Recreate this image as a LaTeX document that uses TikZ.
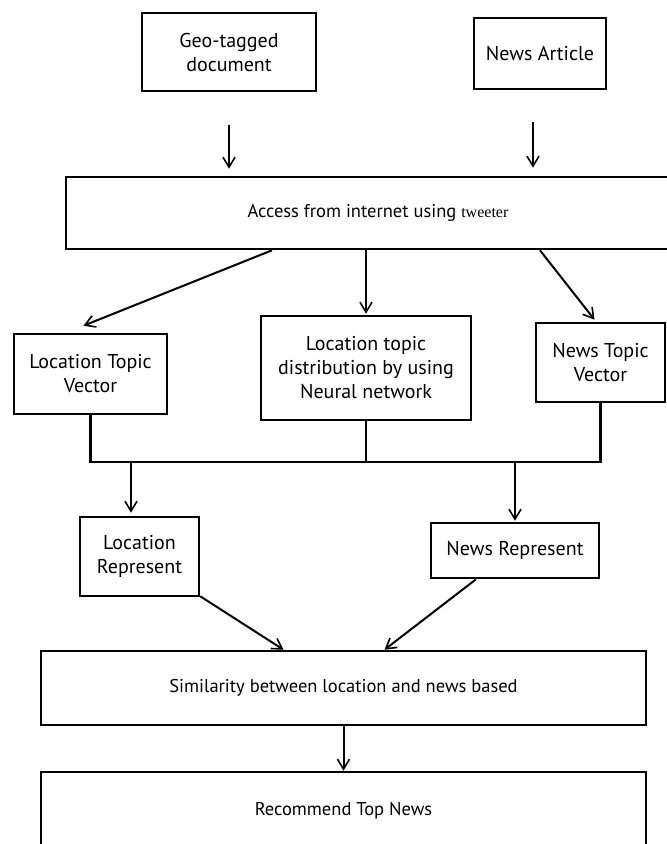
\documentclass[tikz,border=0pt]{standalone}
\usepackage{fontspec}
\setmainfont{PT Sans}
\newfontfamily\serifalt{Liberation Serif}
\usetikzlibrary{arrows.meta,calc}
\begin{document}
\begin{tikzpicture}[x=1pt,y=-1pt,
  box/.style={draw, line width=2.6pt, align=center, inner sep=0pt, font=\fontsize{20}{24}\selectfont},
  wide/.style={box, font=\fontsize{18.5}{22}\selectfont},
  arr/.style={line width=2pt, -{Straight Barb[length=10pt,width=12pt,line width=1.6pt]}},
  link/.style={line width=2.4pt}]
\fill[white] (0,0) rectangle (667,844);
\useasboundingbox (0,0) rectangle (667,844);
% nodes
\node[box, minimum width=174pt, minimum height=78pt] (geo) at (229,52) {Geo-tagged\\document};
\node[box, minimum width=132pt, minimum height=71pt] (art) at (540,53.5) {News Article};
\node[wide, minimum width=614pt, minimum height=72pt] (acc) at (373,213) {};
\node[font=\fontsize{18.5}{22}\selectfont, inner sep=0pt] (acctext) at (378,213) {Access from internet using {\serifalt\fontsize{16}{22}\selectfont tweeter}};
\node[box, minimum width=153pt, minimum height=80pt] (ltv) at (90.5,374) {Location Topic\\Vector};
\node[box, minimum width=210pt, minimum height=104pt] (ltd) at (366,368) {Location topic\\distribution by using\\Neural network};
\node[box, minimum width=129pt, minimum height=79pt] (ntv) at (600.5,362.5) {News Topic\\Vector};
\node[box, minimum width=119pt, minimum height=79pt] (lr) at (139.5,556.5) {Location\\Represent};
\node[box, minimum width=168pt, minimum height=55pt] (nr) at (515,550.5) {News Represent};
\node[wide, minimum width=605pt, minimum height=74pt] (sim) at (343.5,688) {Similarity between location and news based};
\node[wide, minimum width=605pt, minimum height=78pt] (rec) at (343.5,811) {Recommend Top News};
\coordinate (j) at (366,462);
% connectors
\draw[arr] ([yshift=-33pt]geo.south) -- ([yshift=7pt]geo.south |- acc.north);
\draw[arr] ([xshift=-7pt,yshift=-32pt]art.south) -- ([xshift=-7pt,yshift=8pt]art.south |- acc.north);
\draw[arr] ([xshift=-101pt]acc.south) -- ([xshift=-7pt,yshift=7pt]ltv.north);
\draw[arr] (acc.south -| ltd.north) -- ([yshift=1pt]ltd.north);
\draw[arr] ([xshift=167pt]acc.south) -- ([xshift=-6pt,yshift=2pt]ntv.north);
\draw[link] (ltv.south) |- (j);
\draw[link] (ltd.south) -- (j);
\draw[link] (ntv.south) |- (j);
\draw[arr, line width=2.8pt] ([xshift=-8.5pt]lr.north |- j) -- ([xshift=-8.5pt,yshift=3pt]lr.north);
\draw[arr] (nr.north |- j) -- ([yshift=1pt]nr.north);
\draw[arr] ([yshift=1pt]lr.south east) -- ([xshift=-60pt]sim.north);
\draw[arr] ([xshift=-39pt]nr.south) -- ([xshift=41pt]sim.north);
\draw[arr] (sim.south) -- (rec.north);
\end{tikzpicture}
\end{document}
